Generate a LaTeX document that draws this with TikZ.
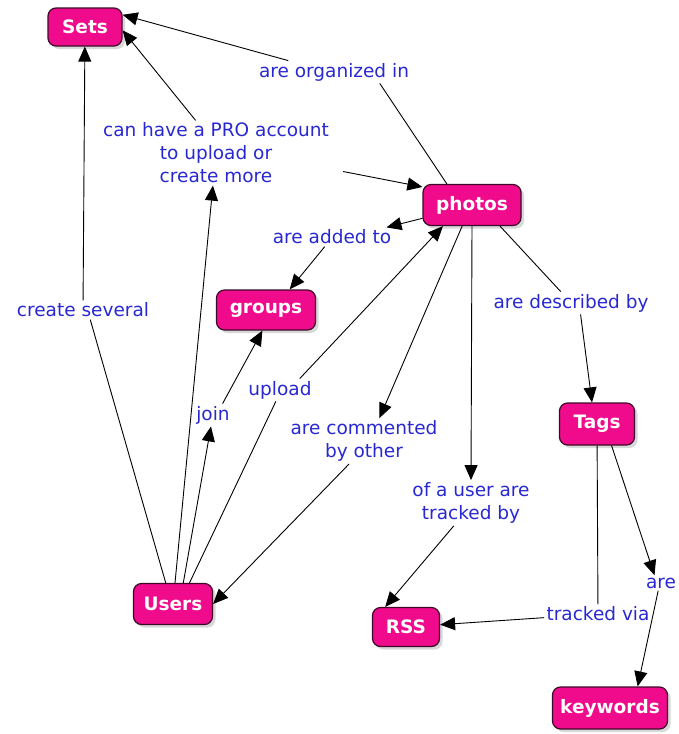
\documentclass[tikz,border=0pt]{standalone}
\usepackage{fontspec}
\setmainfont{DejaVu Sans}
\usepackage{tikz}
\usepackage{xcolor}
\usetikzlibrary{arrows.meta,shadows}

\definecolor{cmappink}{RGB}{240,10,140}
\definecolor{cmapedge}{RGB}{60,10,40}
\definecolor{linkblue}{RGB}{40,40,210}

\begin{document}
\begin{tikzpicture}[->,>={Triangle[length=15pt,width=13pt]}, line width=0.9pt, x=1pt, y=-1pt, align=center]

    \tikzstyle{concept}=[fill=cmappink, draw=cmapedge, line width=1.2pt, rounded corners=8pt, text=white, font=\fontsize{18.5}{23}\selectfont\bfseries, minimum height=41pt, inner xsep=6pt, drop shadow={shadow xshift=3pt, shadow yshift=-3pt, fill=black!30}]
    \tikzstyle{link}=[text=linkblue, font=\fontsize{18.5}{23}\selectfont, inner sep=2pt]

    \useasboundingbox (0,0) rectangle (679,734);

    % concepts
    \node[concept, minimum width=74pt, minimum height=38pt] (sets) at (85,27) {Sets};
    \node[concept, minimum width=98pt] (photos) at (472,205) {photos};
    \node[concept, minimum width=99pt, minimum height=40pt] (groups) at (266,310) {groups};
    \node[concept, minimum width=75pt, minimum height=42pt] (tags) at (597,424) {Tags};
    \node[concept, minimum width=79pt] (users) at (173,604) {Users};
    \node[concept, minimum width=67pt, minimum height=39pt] (rss) at (406,627) {RSS};
    \node[concept, minimum width=115pt, minimum height=42pt] (keywords) at (610,708) {keywords};

    % linking phrases
    \node[link] (org) at (334,72) {are organized in};
    \node[link] (pro) at (216,153) {can have a PRO account\\to upload or\\create more};
    \node[link] (added) at (332,237) {are added to};
    \node[link] (create) at (83,310) {create several};
    \node[link] (join) at (213,415) {join};
    \node[link] (upload) at (280,390) {upload};
    \node[link] (commented) at (364,441) {are commented\\by other};
    \node[link] (ofuser) at (471,503) {of a user are\\tracked by};
    \node[link] (described) at (571,303) {are described by};
    \node[link] (trackedvia) at (598,614) {tracked via};
    \node[link] (are) at (661,583) {are};

    \path (photos.140) edge[-] (org.-14)
          (org.166) edge (sets.18)
          (users) edge (pro)
          (pro.122) edge (sets.-5)
          (pro.-8) edge[shorten <=12pt] (photos.160)
          (photos.195) edge (added.10)
          (added.-127) edge (groups.41)
          (users.109) edge[-] (create.-53)
          (create) edge (sets)
          (users.64) edge (join)
          (join.50) edge (groups.-100)
          (users.52) edge[-] (upload.-110)
          (upload.30) edge (photos.-144)
          (photos.-115) edge (commented.56)
          (commented.-123) edge (users.east)
          (photos.south) edge (ofuser.north)
          (ofuser.-127) edge (rss.136)
          (photos.-37) edge[-] (described.132)
          (described.-50) edge (tags.103)
          (tags) edge[-] (trackedvia)
          (trackedvia) edge (rss)
          (tags.-56) edge (are.130)
          (are.-110) edge (keywords.38)
    ;
\end{tikzpicture}
\end{document}
